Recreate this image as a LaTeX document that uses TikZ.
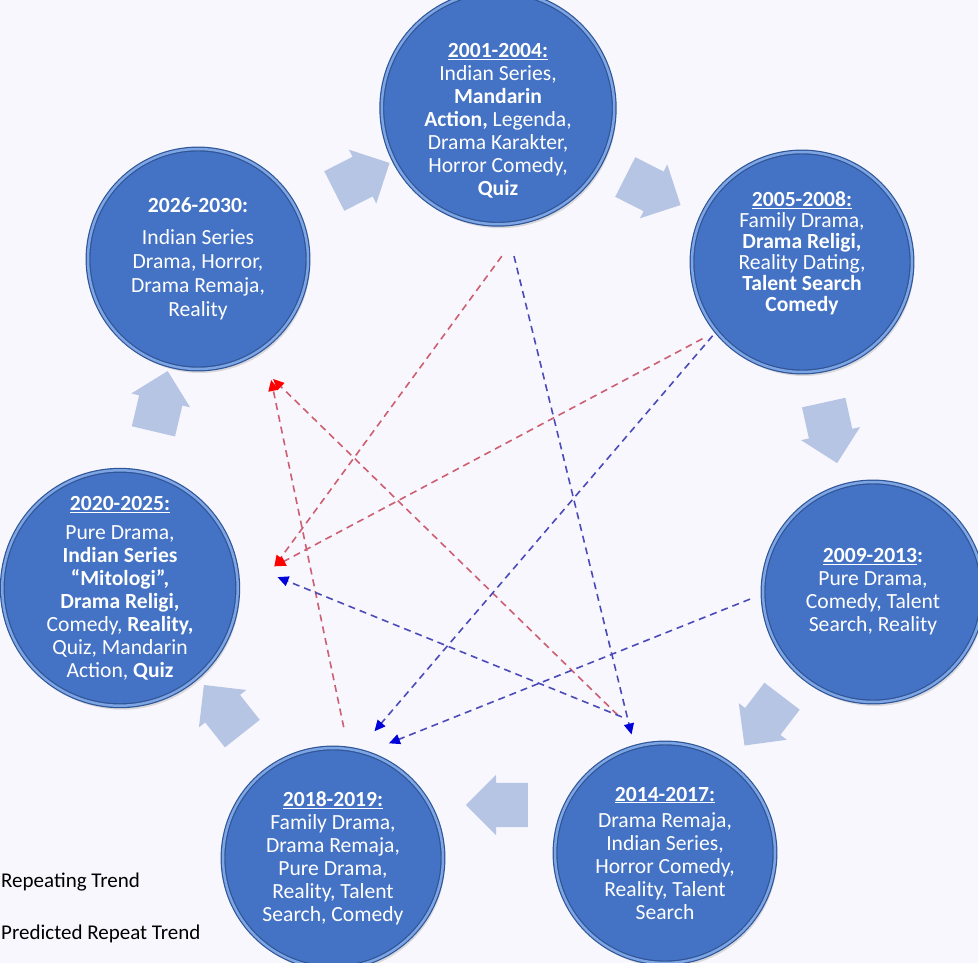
\documentclass[tikz,border=0pt]{standalone}
\usepackage{fontspec}
\setmainfont{Carlito}
\usetikzlibrary{arrows.meta,shapes.arrows,shadows}

\definecolor{bgtint}{RGB}{248,247,253}
\definecolor{discblue}{RGB}{68,114,196}
\definecolor{discedge}{RGB}{47,85,151}
\definecolor{discrim}{RGB}{125,165,228}
\definecolor{flowgray}{RGB}{183,197,228}
\definecolor{predred}{RGB}{205,95,115}
\definecolor{repblue}{RGB}{75,75,185}

\begin{document}
\begin{tikzpicture}[x=1pt, y=-1pt,
    period/.style={circle, minimum size=220pt, inner sep=0pt, outer sep=0pt,
      fill=discblue, draw=discedge, line width=1.2pt, double=discrim, double distance=2.5pt,
      text=white, align=center, font=\fontsize{21.6}{23}\selectfont,
      drop shadow={shadow xshift=2pt, shadow yshift=-4pt, opacity=0.25}},
    flow/.style={single arrow, fill=flowgray, minimum height=62pt,
      inner xsep=0pt, inner ysep=22pt, single arrow head extend=8pt},
    predictline/.style={predred, line width=1.6pt, dash pattern=on 7pt off 5pt,
      -{Triangle[length=11pt, width=10pt, color=red]}},
    repeatline/.style={repblue, line width=1.6pt, dash pattern=on 7pt off 5pt,
      -{Triangle[length=11pt, width=10pt, color=blue!85!black]}},
    legendtext/.style={font=\fontsize{21}{24}\selectfont, inner sep=0pt}]

    \useasboundingbox (0,0) rectangle (978,963);
    \fill[bgtint] (0,0) rectangle (978,963);
    \clip (0,0) rectangle (978,963);

    % cycle arrows between the periods
    \foreach \name/\pos/\ang in {ga/{(352,182)}/26.9, ab/{(643,186)}/-26.9,
        bc/{(828,422)}/-77.5, cd/{(770,712)}/-127.3, de/{(508,805)}/180,
        ef/{(230,718)}/128.3, fg/{(158,412)}/76.7}
      \node[flow, rotate=\ang] (\name) at \pos {};

    % periods
    \node[period] (A) at (498,108) {\rule{0pt}{40pt}\underline{\textbf{2001-2004:}}\\ Indian Series,\\ \textbf{Mandarin}\\
      \textbf{Action,} Legenda,\\ Drama Karakter,\\ Horror Comedy,\\ \textbf{Quiz}};
    \node[period, font=\fontsize{21.6}{21}\selectfont] (B) at (802,262) {\underline{\textbf{2005-2008:}}\\ Family Drama,\\ \textbf{Drama Religi,}\\
      Reality Dating,\\ \textbf{Talent Search}\\ \textbf{Comedy}\rule[-20pt]{0pt}{0pt}};
    \node[period] (C) at (873,592) {\underline{\textbf{2009-2013}}\textbf{:}\\ Pure Drama,\\ Comedy, Talent\\
      Search, Reality};
    \node[period] (D) at (665,853) {\underline{\textbf{2014-2017:}}\\[3pt] Drama Remaja,\\ Indian Series,\\
      Horror Comedy,\\ Reality, Talent\\ Search};
    \node[period] (E) at (333,858) {\underline{\textbf{2018-2019:}}\\ Family Drama,\\ Drama Remaja,\\
      Pure Drama,\\ Reality, Talent\\ Search, Comedy};
    \node[period] (F) at (120,588) {\underline{\textbf{2020-2025:}}\\[6pt] Pure Drama,\\ \textbf{Indian Series}\\
      \textbf{“Mitologi”,}\\ \textbf{Drama Religi,}\\ Comedy, \textbf{Reality,}\\ Quiz, Mandarin\\
      Action, \textbf{Quiz}};
    \node[period, font=\fontsize{21.6}{24}\selectfont] (G) at (198,259) {\textbf{2026-2030:}\\[8pt] Indian Series\\ Drama, Horror,\\
      Drama Remaja,\\ Reality};

    % predicted repeats
    \draw[predictline, shorten <=44.5pt, shorten >=71.6pt] (A.-75) -- (F.-18.3);
    \draw[predictline, shorten <=15.9pt, shorten >=41.8pt] (B.-141.4) -- (F.1.9);
    \draw[predictline, shorten <=42.2pt, shorten >=32.7pt] (D.99.3) -- (G.-62);
    \draw[predictline, shorten <=22.4pt, shorten >=33.8pt] (E.82.4) -- (G.-53);

    % repeating trends
    \draw[repeatline, shorten <=33.1pt, shorten >=13.1pt] (A.-86.8) -- (D.106.9);
    \draw[repeatline, shorten <=6pt, shorten >=25.7pt] (B.-141.5) -- (E.77.8);
    \draw[repeatline, shorten <=14pt, shorten >=25.6pt] (C.-179.6) -- (E.73.5);
    \draw[repeatline, shorten <=85.2pt, shorten >=46.7pt] (D.71.9) -- (F.14.3);

    % legend
    \node[legendtext, anchor=base west] (rep) at (1,887) {Repeating Trend};
    \node[legendtext, anchor=base west] (pred) at (1,939) {Predicted Repeat Trend};
\end{tikzpicture}
\end{document}
